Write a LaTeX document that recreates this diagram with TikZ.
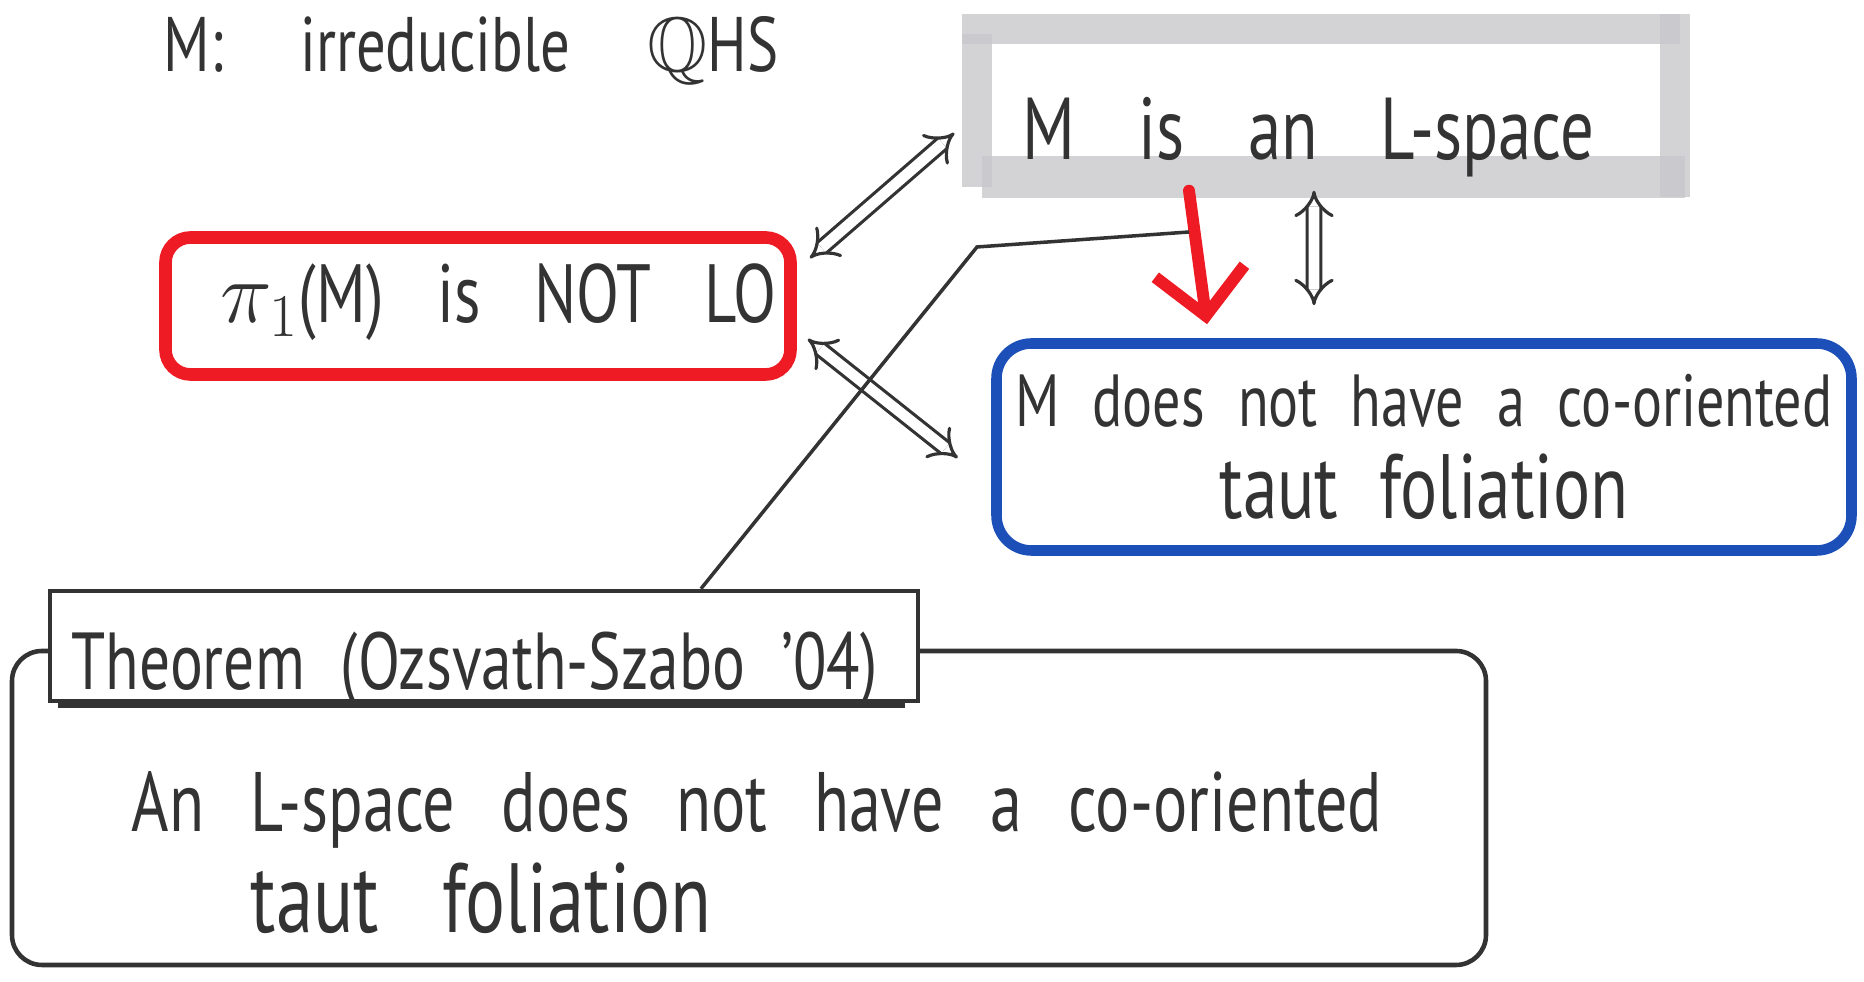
\documentclass[tikz,border=0pt]{standalone}
\usepackage{amsmath,amssymb,amsfonts}
\usepackage{fontspec}
\setmainfont[FakeStretch=0.76,WordSpace=2.2]{PT Sans}
\usepackage{xcolor}
\usepackage{tikz}
\usetikzlibrary{arrows.meta,positioning}

\definecolor{ink}{HTML}{333333}
\definecolor{redpen}{HTML}{EE1B24}
\definecolor{bluepen}{HTML}{1C4FB8}
\definecolor{brushgray}{HTML}{C8C8CC}
\newcommand{\gap}[1]{\spaceskip=#1em\relax}

\begin{document}
\begin{tikzpicture}[
    hand/.style={text=ink, inner sep=0pt, anchor=base west},
    redbox/.style={rectangle, draw=redpen, line width=3.6pt, rounded corners=0.25cm, minimum width=6.25cm, minimum height=1.37cm},
    bluebox/.style={rectangle, draw=bluepen, line width=3pt, rounded corners=0.35cm, minimum width=8.55cm, minimum height=2.07cm, align=center, text=ink, font=\fontsize{21}{28}\selectfont},
    brush/.style={draw=brushgray, line width=8.5pt, opacity=0.8, line cap=butt},
    inkbox/.style={rectangle, draw=ink, line width=1.3pt},
    dbl/.style={draw=ink, line width=0.9pt, double=white, double distance=3pt, {Implies}-{Implies}},
    redarrow/.style={draw=redpen, line width=3.4pt, line cap=round, -{Straight Barb[length=0.45cm,width=0.9cm]}},
    pointer/.style={draw=ink, line width=1pt}
]
    \useasboundingbox (0,0) rectangle (18.64,9.82);

    % Hypothesis
    \node[hand, font=\fontsize{22}{26}\selectfont\gap{1.0}] (hyp) at (1.63,9.1) {M: irreducible $\mathbb{Q}$HS};

    % L-space (grey brush box)
    \node[minimum width=6.97cm, minimum height=1.46cm] (lspace) at (13.26,8.79) {};
    \draw[brush] ([xshift=-0.15cm]lspace.north west) -- ([xshift=0.05cm]lspace.north east);
    \draw[brush] ([yshift=-0.05cm]lspace.north west) -- ([yshift=-0.1cm]lspace.south west);
    \draw[brush] ([yshift=0.15cm]lspace.north east) -- ([yshift=-0.2cm]lspace.south east);
    \draw[brush, line width=12pt] ([xshift=0.05cm]lspace.south west) -- ([xshift=0.1cm]lspace.south east);
    \node[hand, font=\fontsize{25}{30}\selectfont\gap{0.72}] (lspacetxt) at (10.22,8.22) {M is an L-space};

    % Left orderability
    \node[redbox] (notlo) at (4.78,6.76) {};
    \node[hand, font=\fontsize{23.5}{28}\selectfont\gap{0.65}] (notlotxt) at (2.20,6.59) {$\pi_1$(M) is NOT LO};

    % Taut foliation
    \node[bluebox] (taut) at (14.24,5.35) {M does not have a co-oriented\\[-2pt]{\fontsize{26}{32}\selectfont taut foliation}};

    % Equivalences
    \draw[dbl] ([xshift=0.13cm,yshift=-0.27cm]notlo.north east) -- ([xshift=-0.225cm,yshift=-0.3cm]lspace.west);
    \draw[dbl] ([xshift=0.11cm,yshift=-0.33cm]notlo.east) -- ([xshift=-0.335cm,yshift=-0.11cm]taut.west);
    \draw[dbl] ([xshift=-0.12cm,yshift=-0.14cm]lspace.south) -- ([xshift=-1.10cm,yshift=0.33cm]taut.north);
    \draw[redarrow] ([xshift=-1.37cm,yshift=-0.14cm]lspace.south) -- ([xshift=-2.17cm,yshift=0.14cm]taut.north);

    % Theorem
    \node[rectangle, rounded corners=0.3cm, draw=ink, line width=1.3pt, minimum width=14.74cm, minimum height=3.14cm] (thmbody) at (7.49,1.74) {};
    \node[inkbox, fill=white, minimum width=8.68cm, minimum height=1.10cm] (thmhead) at (4.84,3.36) {};
    \draw[draw=ink, line width=2.6pt] ([xshift=0.1cm]thmhead.south west) -- ([xshift=-0.15cm]thmhead.south east);
    \node[hand, font=\fontsize{23}{27}\selectfont] (thmtitle) at (0.71,2.92) {Theorem (Ozsvath-Szabo '04)};
    \node[hand, font=\fontsize{24}{28}\selectfont\gap{0.55}] (thmline1) at (1.31,1.50) {An L-space does not have a co-oriented};
    \node[hand, font=\fontsize{28}{34}\selectfont\gap{0.65}] (thmline2) at (2.50,0.49) {taut foliation};

    % Pointer to the implication
    \coordinate (kink) at (9.77,7.35);
    \coordinate (onarrow) at (11.89,7.50);
    \draw[pointer] ([xshift=2.17cm]thmhead.north) -- (kink) -- (onarrow);
\end{tikzpicture}
\end{document}
